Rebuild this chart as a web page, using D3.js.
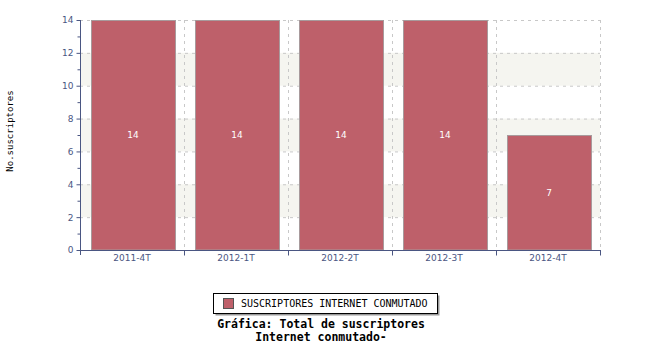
<!doctype html>
<html>
<head>
<meta charset="utf-8">
<script src="https://d3js.org/d3.v7.min.js"></script>
<style>
  body { margin: 0; background: #fff; }
</style>
</head>
<body>
<script>
  var trimestres = ["2011-4T", "2012-1T", "2012-2T", "2012-3T", "2012-4T"];
  var suscriptores = [14, 14, 14, 14, 7];
  var nombreSerie = "SUSCRIPTORES INTERNET CONMUTADO";
  var titulo = ["Gráfica: Total de suscriptores", "Internet conmutado-"];
  var ticksY = [0, 2, 4, 6, 8, 10, 12, 14];

  var width = 650, height = 350;
  var izq = 80, der = 600, arriba = 20, abajo = 250;
  var ejeColor = "#4a5682";

  var svg = d3.select("body").append("svg")
    .attr("width", width)
    .attr("height", height);

  var x = d3.scaleBand().domain(trimestres).range([izq, der]).paddingInner(0).paddingOuter(0);
  var y = d3.scaleLinear().domain([0, 14]).range([abajo, arriba]);

  // franjas de fondo
  var franjas = d3.range(0, 14, 2).filter(function(d){ return (d / 2) % 2 == 1; });
  svg.selectAll("rect.franja").data(franjas).enter().append("rect")
    .attr("x", izq).attr("width", der - izq)
    .attr("y", function(d){ return y(d + 2); })
    .attr("height", function(d){ return y(d) - y(d + 2); })
    .style("fill", "#f5f5f0");

  // rejilla
  svg.selectAll("line.gh").data(ticksY.slice(1)).enter().append("line")
    .attr("x1", izq).attr("x2", der)
    .attr("y1", function(d){ return y(d) + 0.5; })
    .attr("y2", function(d){ return y(d) + 0.5; })
    .style("stroke", "#c8c8c8").style("stroke-dasharray", "3,4");

  var bordes = trimestres.slice(1).map(function(t){ return x(t); }).concat([der]);
  svg.selectAll("line.gv").data(bordes).enter().append("line")
    .attr("x1", function(d){ return d + 0.5; }).attr("x2", function(d){ return d + 0.5; })
    .attr("y1", arriba).attr("y2", abajo)
    .style("stroke", "#c8c8c8").style("stroke-dasharray", "3,4");

  // barras
  var pad = 11, anchoBarra = x.bandwidth() - 20;
  svg.selectAll("rect.barra").data(suscriptores).enter().append("rect")
    .attr("x", function(d, i){ return x(trimestres[i]) + pad + 0.5; })
    .attr("width", anchoBarra)
    .attr("y", function(d){ return y(d) + 0.5; })
    .attr("height", function(d){ return y(0) - y(d) - 0.5; })
    .style("fill", "#be606a")
    .style("stroke", "#a89a9c")
    .style("stroke-width", 1);

  svg.selectAll("text.valor").data(suscriptores).enter().append("text")
    .attr("x", function(d, i){ return x(trimestres[i]) + x.bandwidth() / 2 + 1; })
    .attr("y", function(d){ return (y(d) + y(0)) / 2 + 3; })
    .attr("text-anchor", "middle")
    .style("font-family", "DejaVu Sans")
    .style("font-size", "9px")
    .style("fill", "#fff")
    .text(function(d){ return d; });

  // eje Y
  var ejeY = svg.append("g").attr("transform", "translate(" + (izq + 0.5) + ",0)")
    .call(d3.axisLeft(y).tickValues(ticksY).tickSize(4).tickPadding(3));
  ejeY.selectAll(".tick").filter(function(d){ return d == 14; })
    .select("text").attr("dy", "0.32em");
  ejeY.select("g.minor");
  ejeY.selectAll("line.menor").data(d3.range(1, 14, 2)).enter().append("line")
    .attr("x1", -3).attr("x2", 0)
    .attr("y1", function(d){ return y(d) + 0.5; }).attr("y2", function(d){ return y(d) + 0.5; });
  ejeY.selectAll("path, line").style("stroke", ejeColor);
  ejeY.select("path").attr("d", "M0," + arriba + "V" + (abajo + 5));
  ejeY.selectAll("text").style("fill", ejeColor)
    .style("font-family", "DejaVu Sans").style("font-size", "9px");

  // eje X
  var ejeX = svg.append("g").attr("transform", "translate(0," + (abajo + 0.5) + ")");
  ejeX.append("line").attr("x1", izq).attr("x2", der + 1).style("stroke", ejeColor);
  ejeX.selectAll("line.tk").data(bordes).enter().append("line")
    .attr("x1", function(d){ return d + 0.5; }).attr("x2", function(d){ return d + 0.5; })
    .attr("y1", 0).attr("y2", 5).style("stroke", ejeColor);
  ejeX.selectAll("text").data(trimestres).enter().append("text")
    .attr("x", function(d){ return x(d) + x.bandwidth() / 2; })
    .attr("y", 10)
    .attr("text-anchor", "middle")
    .style("font-family", "DejaVu Sans").style("font-size", "9px")
    .style("fill", ejeColor)
    .text(function(d){ return d; });

  // etiqueta eje Y
  svg.append("text")
    .attr("transform", "translate(13,131) rotate(-90)")
    .attr("text-anchor", "middle")
    .style("font-family", "DejaVu Sans Mono").style("font-size", "9px")
    .style("fill", "#000")
    .text("No.suscriptores");

  // leyenda
  var ley = svg.append("g");
  ley.append("rect").attr("x", 215.5).attr("y", 295.5).attr("width", 224).attr("height", 20)
    .style("fill", "#999");
  ley.append("rect").attr("x", 213.5).attr("y", 293.5).attr("width", 224).attr("height", 20)
    .style("fill", "#fff").style("stroke", "#000");
  ley.append("rect").attr("x", 223.5).attr("y", 298.5).attr("width", 10).attr("height", 10)
    .style("fill", "#be606a").style("stroke", "#555");
  ley.append("text").attr("x", 241).attr("y", 307)
    .style("font-family", "DejaVu Sans Mono").style("font-size", "10px")
    .text(nombreSerie);

  svg.selectAll("text.titulo").data(titulo).enter().append("text")
    .attr("x", 321).attr("y", function(d, i){ return 328 + i * 13; })
    .attr("text-anchor", "middle")
    .style("font-family", "DejaVu Sans Mono").style("font-size", "11.5px")
    .style("font-weight", "bold")
    .text(function(d){ return d; });
</script>
</body>
</html>
